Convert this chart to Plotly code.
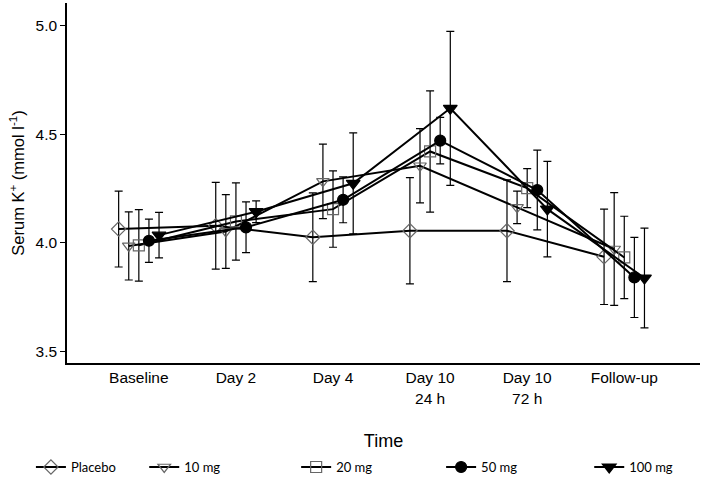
import plotly.graph_objects as go

categories = ["Baseline", "Day 2", "Day 4", "Day 10<br>24 h", "Day 10<br>72 h", "Follow-up"]

series_names = ["Placebo", "10 mg", "20 mg", "50 mg", "100 mg"]

placebo_mean = [4.063, 4.078, 4.025, 4.055, 4.055, 3.935]
placebo_err = [0.175, 0.20, 0.205, 0.245, 0.235, 0.22]

mg10_mean = [3.985, 4.052, 4.283, 4.355, 4.163, 3.971]
mg10_err = [0.157, 0.17, 0.172, 0.171, 0.075, 0.26]

mg20_mean = [3.988, 4.098, 4.155, 4.421, 4.252, 3.932]
mg20_err = [0.165, 0.178, 0.176, 0.28, 0.09, 0.19]

mg50_mean = [4.009, 4.071, 4.198, 4.471, 4.243, 3.84]
mg50_err = [0.10, 0.117, 0.106, 0.107, 0.184, 0.185]

mg100_mean = [4.035, 4.143, 4.274, 4.62, 4.155, 3.837]
mg100_err = [0.105, 0.05, 0.233, 0.355, 0.22, 0.23]

y_ticks = [3.5, 4.0, 4.5, 5.0]
y_tick_labels = ["3.5", "4.0", "4.5", "5.0"]

means = [placebo_mean, mg10_mean, mg20_mean, mg50_mean, mg100_mean]
errs = [placebo_err, mg10_err, mg20_err, mg50_err, mg100_err]
symbols = ["diamond-open", "triangle-down-open", "square-open", "circle", "triangle-down"]
mcolors = ["#666666", "#666666", "#666666", "black", "black"]
msizes = [11, 11, 11, 11, 12]
legend_ids = ["legend", "legend2", "legend3", "legend4", "legend5"]
legend_x = [-0.057, 0.122, 0.362, 0.591, 0.825]

fig = go.Figure()
for name, m, e, s, c, sz, lid in zip(series_names, means, errs, symbols, mcolors, msizes, legend_ids):
    fig.add_trace(go.Scatter(
        x=categories, y=m, name=name, mode="lines+markers",
        line=dict(color="black", width=2),
        marker=dict(symbol=s, size=sz, color=c, line=dict(width=1.2, color=c)),
        error_y=dict(type="data", array=e, visible=True, color="black", thickness=1.2, width=4),
        legend=lid,
    ))

legend_style = dict(orientation="h", y=-0.289, xanchor="left", yanchor="middle",
                    font=dict(size=13, family="Lato, Liberation Sans, sans-serif"),
                    itemwidth=30, bgcolor="rgba(0,0,0,0)")
fig.update_layout(
    width=709, height=479,
    margin=dict(l=67, r=9, t=3, b=116, autoexpand=False),
    plot_bgcolor="white", paper_bgcolor="white",
    scattermode="group", scattergap=0.48,
    font=dict(family="Liberation Sans, Arial, sans-serif", color="black"),
    showlegend=True,
    **{lid: dict(x=lx, **legend_style) for lid, lx in zip(legend_ids, legend_x)},
)
fig.update_xaxes(
    type="category", range=[-0.74, 5.78],
    showline=True, linecolor="black", linewidth=1.5, ticks="", showgrid=False,
    tickfont=dict(size=15.5), title=dict(text="Time", font=dict(size=18), standoff=29),
)
fig.update_yaxes(
    range=[3.445, 5.106], tickvals=y_ticks, ticktext=y_tick_labels,
    showline=True, linecolor="black", linewidth=1.5, ticks="outside", ticklen=5,
    tickcolor="black", showgrid=False, zeroline=False, tickfont=dict(size=15.5),
    title=dict(text="Serum K<sup>+</sup> (mmol l<sup>-1</sup>)", font=dict(size=16.5), standoff=7),
)

fig.write_html("out.html", config={"displayModeBar": False},
               post_script="document.body.style.margin='0';")
